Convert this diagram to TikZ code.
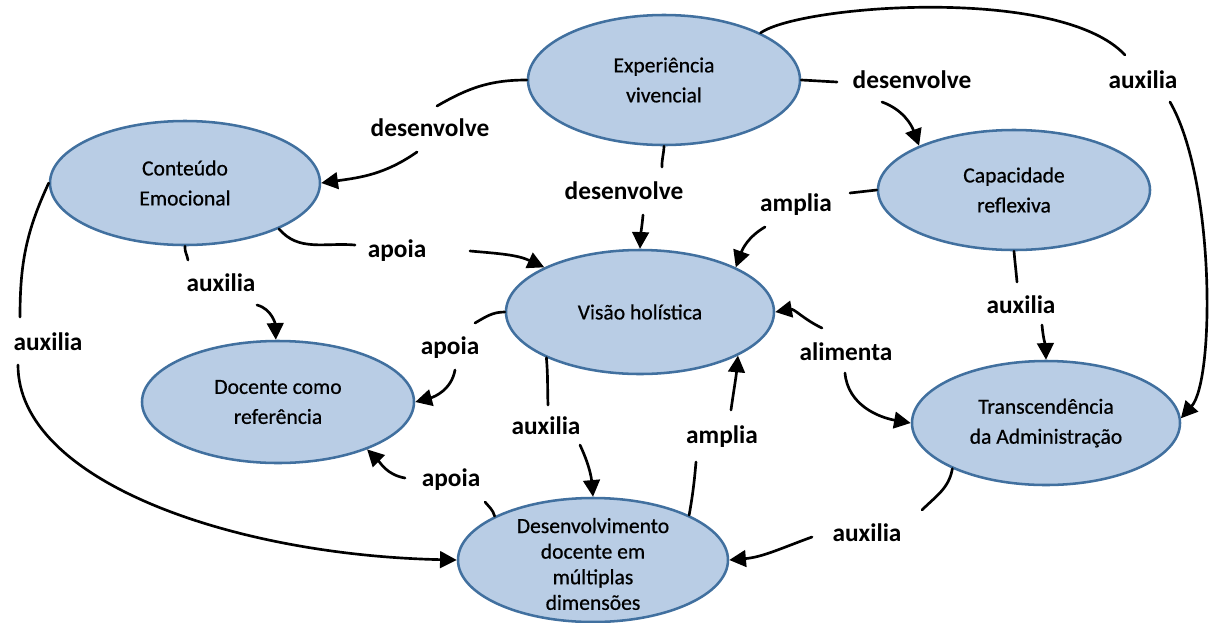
\documentclass[tikz,border=0pt]{standalone}
\usepackage{fontspec}
\setmainfont{Carlito}
\newfontfamily\conceptfont[FakeBold=0.6]{Carlito}
\usetikzlibrary{shapes.geometric,arrows.meta}
\definecolor{conceptfill}{HTML}{B9CDE5}
\definecolor{conceptline}{HTML}{41709F}
\begin{document}
\begin{tikzpicture}[x=0.75pt,y=0.75pt,
  concept/.style={ellipse,draw=conceptline,fill=conceptfill,line width=1.9pt,inner sep=0pt},
  nodetext/.style={align=center,font=\conceptfont\fontsize{16.2}{22.5}\selectfont,text=black,inner sep=0pt},
  rel/.style={font=\bfseries\fontsize{19}{22}\selectfont,inner sep=1pt},
  link/.style={line width=2pt,line cap=round},
  linkarrow/.style={link,-{Triangle[length=12.5pt,width=12.5pt]}}]

\useasboundingbox[fill=white] (0,0) rectangle (1218,-622);

% concepts
\node[concept,minimum width=204pt,minimum height=97.5pt] (exp) at (664,-80) {};
\node[concept,minimum width=202.5pt,minimum height=93pt] (con) at (185,-183) {};
\node[concept,minimum width=204pt,minimum height=90pt] (cap) at (1014,-190) {};
\node[concept,minimum width=201pt,minimum height=93pt] (vis) at (640,-312) {};
\node[concept,minimum width=204pt,minimum height=91.5pt] (doc) at (278,-402) {};
\node[concept,minimum width=201pt,minimum height=93pt] (tra) at (1046,-423) {};
\node[concept,minimum width=202.5pt,minimum height=93pt] (dev) at (593,-560) {};

\node[nodetext] (exptext) at (exp) {Experiência\\vivencial};
\node[nodetext] (context) at (con) {Conteúdo\\Emocional};
\node[nodetext] (captext) at (cap) {Capacidade\\reflexiva};
\node[nodetext] (vistext) at (vis) {Visão holística};
\node[nodetext] (doctext) at (doc) {Docente como\\referência};
\node[nodetext] (tratext) at (tra) {Transcendência\\da Administração};
\node[nodetext,font=\conceptfont\fontsize{16.2}{19.2}\selectfont] (devtext) at ([yshift=-3pt]dev) {Desenvolvimento\\docente em\\múltiplas\\dimensões};

% relation labels
\node[rel] (l1) at (430,-128) {desenvolve};
\node[rel] (l2) at (624,-191) {desenvolve};
\node[rel] (l3) at (912,-80) {desenvolve};
\node[rel] (l4) at (1143,-80) {auxilia};
\node[rel] (l5) at (397,-251) {apoia};
\node[rel] (l6) at (221,-283) {auxilia};
\node[rel] (l7) at (48,-342) {auxilia};
\node[rel] (l8) at (450,-348) {apoia};
\node[rel] (l9) at (546,-426) {auxilia};
\node[rel] (l10) at (722,-437) {amplia};
\node[rel] (l11) at (451,-480) {apoia};
\node[rel] (l12) at (796,-205) {amplia};
\node[rel] (l13) at (1021,-305) {auxilia};
\node[rel] (l14) at (846,-352) {alimenta};
\node[rel] (l15) at (867,-533) {auxilia};

% break points of the connectors around their labels
\coordinate (e1a) at (437,-106);  \coordinate (e1b) at (417,-152);
\coordinate (e2a) at (662,-167);  \coordinate (e2b) at (643,-215);
\coordinate (e3a) at (837,-82);   \coordinate (e3b) at (882,-102);
\coordinate (e4a) at (1125,-55);  \coordinate (e4b) at (1170,-102);
\coordinate (e5a) at (355,-245);  \coordinate (e5b) at (470,-251);
\coordinate (e6a) at (188,-260);  \coordinate (e6b) at (257,-305);
\coordinate (e7a) at (20,-317);   \coordinate (e7b) at (18,-365);
\coordinate (e8a) at (475,-323);  \coordinate (e8b) at (455,-370);
\coordinate (e9a) at (548,-405);  \coordinate (e9b) at (580,-445);
\coordinate (e10a) at (696,-462); \coordinate (e10b) at (731,-410);
\coordinate (e11a) at (485,-502); \coordinate (e11b) at (405,-478);
\coordinate (e12a) at (850,-193); \coordinate (e12b) at (765,-227);
\coordinate (e13a) at (1017,-282); \coordinate (e13b) at (1042,-325);
\coordinate (e14a) at (822,-328); \coordinate (e14b) at (845,-373);
\coordinate (e15a) at (922,-510); \coordinate (e15b) at (812,-537);

% connectors
\draw[link] (exp.west) to[out=180,in=30] (e1a);
\draw[linkarrow] (e1b) to[out=215,in=8] (con.east);

\draw[link] (exp.south) to[out=-92,in=92] (e2a);
\draw[linkarrow] (e2b) to[out=-95,in=88] (vis.north);

\draw[link] (exp.east) to[out=-3,in=177] (e3a);
\draw[linkarrow] (e3b) to[out=-20,in=110] (cap.155);

\draw[link] (exp.26) .. controls (800,-5) and (1060,15) .. (e4a);
\draw[linkarrow] (e4b) .. controls (1215,-180) and (1215,-380) .. (tra.2);

\draw[link] (con.-26) to[out=-50,in=175] (e5a);
\draw[linkarrow] (e5b) to[out=-5,in=155] (vis.155);

\draw[link] (con.south) to[out=-95,in=100] (e6a);
\draw[linkarrow] (e6b) to[out=-15,in=92] (doc.92);

\draw[link] (con.west) to[out=-115,in=90] (e7a);
\draw[linkarrow] (e7b) .. controls (18,-480) and (230,-555) .. (dev.west);

\draw[link] (vis.west) to[out=180,in=30] (e8a);
\draw[linkarrow] (e8b) to[out=-100,in=15] (doc.east);

\draw[link] (vis.206) to[out=-85,in=92] (e9a);
\draw[linkarrow] (e9b) to[out=-65,in=95] (dev.north);

\draw[link] (dev.25) to[out=80,in=-95] (e10a);
\draw[linkarrow] (e10b) to[out=82,in=-95] (vis.-24);

\draw[link] (dev.156) to[out=105,in=-50] (e11a);
\draw[linkarrow] (e11b) to[out=170,in=-45] (doc.-28);

\draw[link] (cap.west) -- (e12a);
\draw[linkarrow] (e12b) to[out=-150,in=70] (vis.25);

\draw[link] (cap.south) to[out=-85,in=95] (e13a);
\draw[linkarrow] (e13b) to[out=-85,in=92] (tra.north);

\draw[linkarrow] (e14a) to[out=155,in=10] (vis.east);
\draw[linkarrow] (e14b) to[out=-85,in=170] (tra.west);

\draw[link] (tra.206) to[out=-100,in=45] (e15a);
\draw[linkarrow] (e15b) to[out=200,in=5] (dev.east);
\end{tikzpicture}
\end{document}
